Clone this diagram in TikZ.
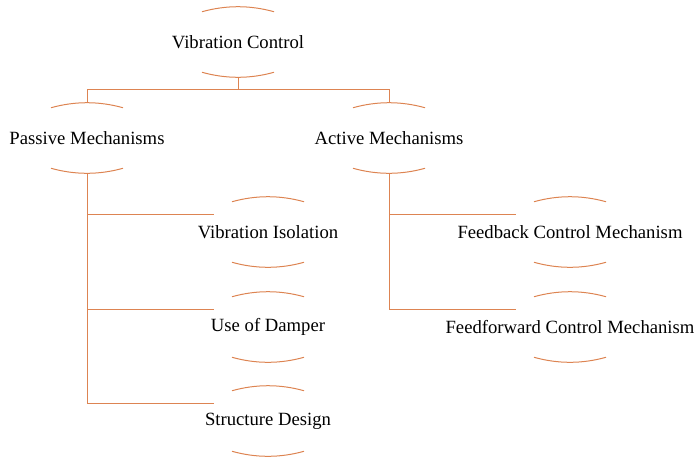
\documentclass[tikz,border=0pt]{standalone}
\usepackage{fontspec}
\setmainfont{Liberation Serif}
\usepackage{tikz}

\definecolor{capcolor}{RGB}{221,132,82}

\begin{document}
\begin{tikzpicture}[x=0.75pt,y=-0.75pt]
            \tikzstyle{every node}=[font=\fontsize{14}{16}\selectfont, minimum height=52.5pt, inner sep=0pt];
            \tikzstyle{capline}=[draw=capcolor, line width=0.75pt];
            \useasboundingbox (0,0) rectangle (698,458);
            % nodes
            \node (vc) at (238,42) {Vibration Control};
            \node (pm) at (87,138) {Passive Mechanisms};
            \node (am) at (389,138) {Active Mechanisms};
            \node (vi) at (268,232) {Vibration Isolation};
            \node (ud) at (268,327) {Use of Damper};
            \node (sd) at (268,421) {Structure Design};
            \node (fb) at (570,232) {Feedback Control Mechanism};
            \node (ff) at (570,327) {Feedforward Control Mechanism};
            % caps above and below each text
            \foreach \n in {vc,pm,am,vi,ud,sd,fb,ff} {
                \draw[capline] ([shift={(-36,5)}]\n.north) .. controls ([shift={(-12,-1.7)}]\n.north) and ([shift={(12,-1.7)}]\n.north) .. ([shift={(36,5)}]\n.north);
                \draw[capline] ([shift={(-36,-5)}]\n.south) .. controls ([shift={(-12,1.7)}]\n.south) and ([shift={(12,1.7)}]\n.south) .. ([shift={(36,-5)}]\n.south);
            }
            % connectors
            \draw[capline] (vc.south) -- ++(0,12) -| (pm.north);
            \draw[capline] (vc.south) -- ++(0,12) -| (am.north);
            \foreach \n in {vi,ud,sd}
                \draw[capline] (pm.south) |- ([shift={(-54,-18)}]\n.center);
            \foreach \n in {fb,ff}
                \draw[capline] (am.south) |- ([shift={(-54,-18)}]\n.center);
        \end{tikzpicture}
\end{document}
